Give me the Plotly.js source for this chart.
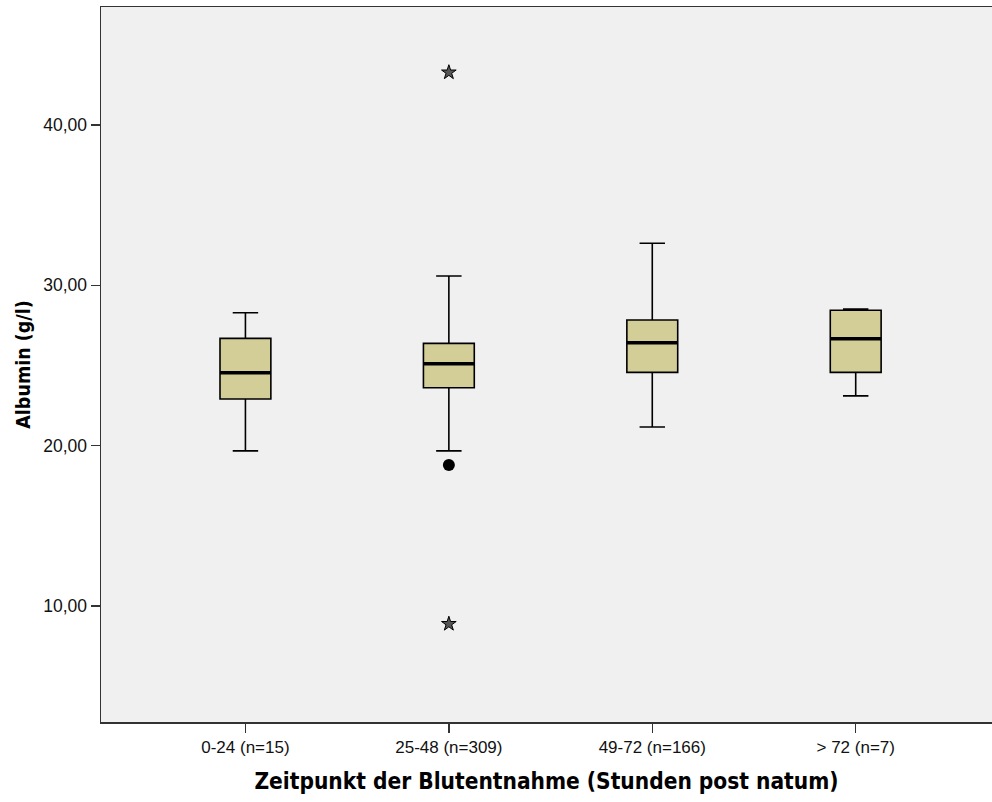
<!DOCTYPE html>
<html>
<head>
<meta charset="utf-8">
<script src="https://cdn.plot.ly/plotly-3.0.1.min.js"></script>
<style>html,body{margin:0;padding:0;background:#fff;}#chart{width:992px;height:802px;}</style>
</head>
<body>
<div id="chart"></div>
<script>
const categories = ["0-24 (n=15)", "25-48 (n=309)", "49-72 (n=166)", "> 72 (n=7)"];
const lowerWhisker = [19.67, 19.67, 21.16, 23.10];
const q1 = [22.91, 23.61, 24.57, 24.57];
const median = [24.55, 25.11, 26.42, 26.67];
const q3 = [26.69, 26.38, 27.84, 28.44];
const upperWhisker = [28.29, 30.58, 32.62, 28.52];
const outlierCat = ["25-48 (n=309)"];
const outlierVal = [18.79];
const extremeCat = ["25-48 (n=309)", "25-48 (n=309)"];
const extremeVal = [43.28, 8.88];
const yTicks = [10, 20, 30, 40];

const boxes = {
  type: "box",
  x: categories,
  q1: q1, median: median, q3: q3,
  lowerfence: lowerWhisker, upperfence: upperWhisker,
  width: 0.25,
  whiskerwidth: 0.5,
  fillcolor: "#D3CE98",
  line: {color: "#000000", width: 1.6},
  boxpoints: false,
  showlegend: false,
  hoverinfo: "skip"
};
const medianLines = {
  type: "box",
  x: categories,
  q1: median, median: median, q3: median,
  lowerfence: median, upperfence: median,
  width: 0.25,
  whiskerwidth: 0,
  fillcolor: "rgba(0,0,0,0)",
  line: {color: "#000000", width: 3.5},
  boxpoints: false,
  showlegend: false,
  hoverinfo: "skip"
};
const outliers = {
  type: "scatter", mode: "markers",
  x: outlierCat, y: outlierVal,
  marker: {symbol: "circle", size: 12, color: "#000000"},
  showlegend: false, hoverinfo: "skip"
};
const extremes = {
  type: "scatter", mode: "markers",
  x: extremeCat, y: extremeVal,
  marker: {symbol: "star", size: 11, color: "#555555", line: {color: "#000", width: 1}},
  showlegend: false, hoverinfo: "skip"
};

const layout = {
  width: 992, height: 802,
  margin: {l: 101, r: 0, t: 7, b: 80},
  paper_bgcolor: "#ffffff",
  plot_bgcolor: "#F0F0F0",
  separators: ",.",
  font: {family: "Liberation Sans, Arial, sans-serif", color: "#000"},
  hovermode: false,
  xaxis: {
    type: "category",
    categoryorder: "array", categoryarray: categories,
    range: [-0.71, 3.67],
    showline: true, linecolor: "#333", linewidth: 1.5, mirror: true,
    ticks: "outside", ticklen: 9, tickwidth: 1.3, tickcolor: "#333",
    showgrid: false, zeroline: false,
    tickfont: {size: 17, color: "#111"},
    title: {text: "Zeitpunkt der Blutentnahme (Stunden post natum)", font: {family: "DejaVu Sans Condensed, DejaVu Sans, sans-serif", size: 22.5, color: "#000", weight: "bold"}, standoff: 17}
  },
  yaxis: {
    range: [2.76, 47.36],
    tickvals: yTicks,
    tickformat: ".2f",
    showline: true, linecolor: "#333", linewidth: 1.5,
    ticks: "outside", ticklen: 9, tickwidth: 1.3, tickcolor: "#333",
    showgrid: false, zeroline: false,
    tickfont: {size: 17.5, color: "#111"},
    title: {text: "Albumin (g/l)", font: {family: "DejaVu Sans Condensed, DejaVu Sans, sans-serif", size: 19.5, color: "#000", weight: "bold"}, standoff: 7}
  }
};

Plotly.newPlot("chart", [boxes, medianLines, outliers, extremes], layout, {displayModeBar: false, staticPlot: true});
</script>
</body>
</html>
